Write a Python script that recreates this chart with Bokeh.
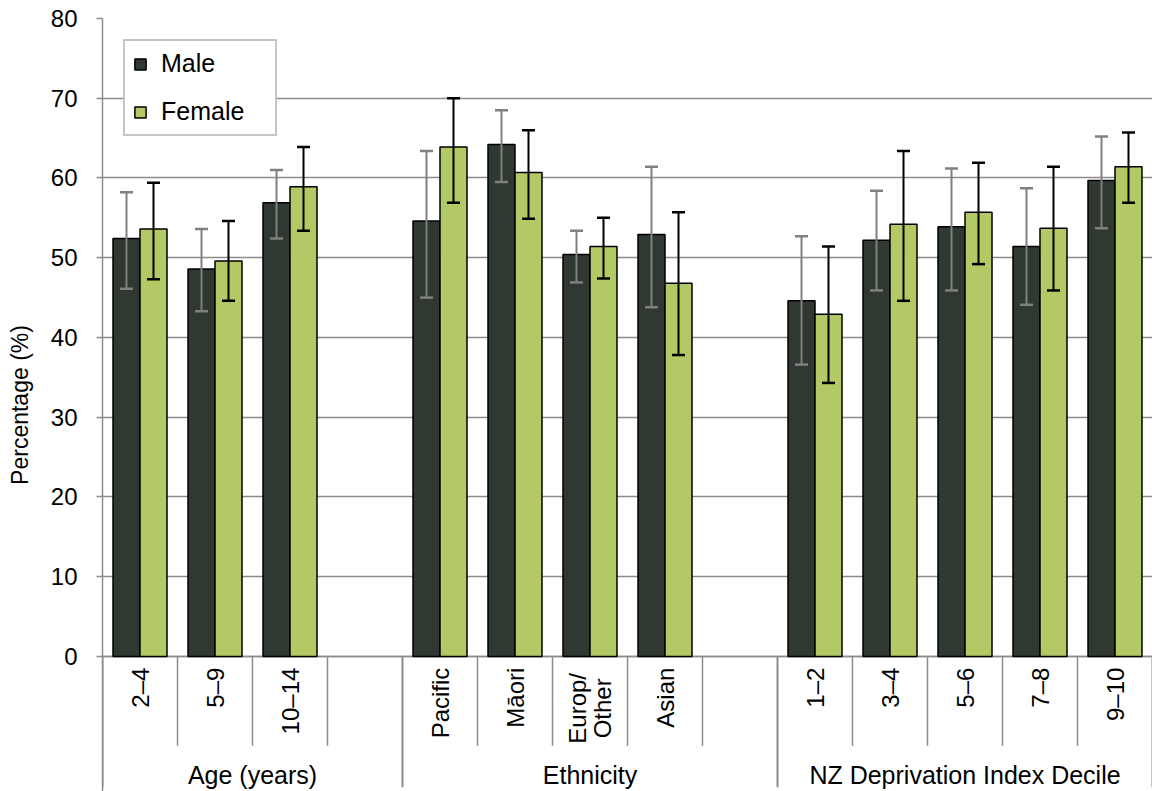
import math
from bokeh.plotting import figure
from bokeh.models import (ColumnDataSource, Whisker, TeeHead, FixedTicker, Legend,
                          LegendItem, Range1d)
from bokeh.core.properties import value
from bokeh.embed import file_html
from bokeh.resources import INLINE

# ---------------- data ----------------
group_names = ["Age (years)", "Ethnicity", "NZ Deprivation Index Decile"]
age_cats = ["2–4", "5–9", "10–14"]
eth_cats = ["Pacific", "Māori", "Europ/\nOther", "Asian"]
dep_cats = ["1–2", "3–4", "5–6", "7–8", "9–10"]

male = [52.4, 48.6, 56.9, 54.6, 64.2, 50.4, 52.9, 44.6, 52.2, 53.9, 51.4, 59.7]
male_lo = [46.1, 43.3, 52.4, 45.0, 59.5, 46.9, 43.8, 36.6, 45.9, 45.9, 44.1, 53.7]
male_hi = [58.2, 53.6, 61.0, 63.4, 68.5, 53.4, 61.4, 52.7, 58.4, 61.2, 58.7, 65.2]

female = [53.6, 49.6, 58.9, 63.9, 60.7, 51.4, 46.8, 42.9, 54.2, 55.7, 53.7, 61.4]
female_lo = [47.3, 44.6, 53.4, 56.9, 54.9, 47.4, 37.8, 34.3, 44.6, 49.2, 45.9, 56.9]
female_hi = [59.4, 54.6, 63.9, 70.0, 66.0, 55.0, 55.7, 51.4, 63.4, 61.9, 61.4, 65.7]

y_ticks = [0, 10, 20, 30, 40, 50, 60, 70, 80]

# ---------------- layout helpers ----------------
groups = [age_cats, eth_cats, dep_cats]
slot_x = []          # centre of each category slot
group_bounds = []    # (start, end) of each group in slot units
short_lines = []
pos = 0
for gi, cats in enumerate(groups):
    start = pos
    n = len(cats) + (1 if gi < len(groups) - 1 else 0)
    for k in range(len(cats)):
        slot_x.append(pos + k + 0.5)
    for k in range(1, n):
        short_lines.append(start + k)
    pos += n
    group_bounds.append((start, pos))
all_cats = [c for cats in groups for c in cats]
n_slots = pos

BW = 0.36
FONT = "Liberation Sans"
GRID = "#8c8c8c"
MALE_C = "#2f3831"
FEMALE_C = "#b3c965"

src = ColumnDataSource(dict(
    xm=[x - BW / 2 for x in slot_x], xf=[x + BW / 2 for x in slot_x],
    male=male, male_lo=male_lo, male_hi=male_hi,
    female=female, female_lo=female_lo, female_hi=female_hi,
))

Y_MIN = -16.93
p = figure(width=1152, height=791, output_backend="svg", toolbar_location=None,
           x_range=Range1d(0, n_slots), y_range=Range1d(Y_MIN, 80),
           min_border_left=102, min_border_right=0, min_border_top=18,
           min_border_bottom=0, x_axis_location=None)
p.outline_line_color = None
p.background_fill_color = "white"
p.xgrid.visible = False
p.ygrid.grid_line_color = GRID
p.ygrid.grid_line_width = 1.5

ya = p.yaxis[0]
ya.ticker = FixedTicker(ticks=y_ticks)
ya.axis_line_color = GRID
ya.axis_line_width = 1.5
ya.major_tick_line_color = GRID
ya.major_tick_line_width = 1.5
ya.major_tick_out = 6
ya.major_tick_in = 0
ya.minor_tick_line_color = None
ya.major_label_text_font = FONT
ya.major_label_text_font_size = "24px"
ya.major_label_text_color = "black"
ya.major_label_standoff = 19
ya.axis_label = "Percentage (%)"
ya.axis_label_text_font = FONT
ya.axis_label_text_font_size = "23px"
ya.axis_label_text_font_style = "normal"
ya.axis_label_text_color = "black"
ya.axis_label_standoff = 15

# x axis line and separators
p.segment(x0=[0], y0=[0], x1=[n_slots], y1=[0], line_color=GRID, line_width=1.5)
p.segment(x0=short_lines, y0=[0] * len(short_lines), x1=short_lines,
          y1=[-11.2] * len(short_lines), line_color=GRID, line_width=1.5)
long_lines = sorted(set([b for g in group_bounds for b in g]))
p.segment(x0=long_lines, y0=[0] * len(long_lines), x1=long_lines,
          y1=[-16.4] * len(long_lines), line_color=GRID, line_width=2)

# bars
rm = p.vbar(x="xm", top="male", bottom=0, width=BW, source=src,
            fill_color=MALE_C, line_color="black", line_width=1.5)
rf = p.vbar(x="xf", top="female", bottom=0, width=BW, source=src,
            fill_color=FEMALE_C, line_color="black", line_width=1.5)

# error bars
for base, lo, hi, col in (("xm", "male_lo", "male_hi", "#808080"),
                          ("xf", "female_lo", "female_hi", "black")):
    w = Whisker(source=src, base=base, lower=lo, upper=hi, dimension="height",
                line_color=col, line_width=2, level="overlay",
                upper_head=TeeHead(size=13, line_color=col, line_width=2.5),
                lower_head=TeeHead(size=13, line_color=col, line_width=2.5))
    p.add_layout(w)

# category labels
single_x = [x for x, c in zip(slot_x, all_cats) if "\n" not in c]
single_t = [c for c in all_cats if "\n" not in c]
multi_x = [x for x, c in zip(slot_x, all_cats) if "\n" in c]
multi_t = [c for c in all_cats if "\n" in c]
p.text(x=single_x, y=[-1.4] * len(single_x), text=single_t, angle=math.pi / 2,
       text_align="right", text_baseline="middle", text_font=value(FONT),
       text_font_size="24px", text_color="black")
p.text(x=multi_x, y=[-6.5] * len(multi_x), text=multi_t, angle=math.pi / 2,
       text_align="center", text_baseline="middle", text_font=value(FONT),
       text_font_size="24px", text_color="black", text_line_height=0.95)

# group labels
gx = [(a + b) / 2 for a, b in group_bounds]
p.text(x=gx, y=[-14.8] * len(gx), text=group_names, text_align="center",
       text_baseline="middle", text_font=value(FONT), text_font_size="25px",
       text_color="black")

legend = Legend(items=[LegendItem(label="Male", renderers=[rm]),
                       LegendItem(label="Female", renderers=[rf])],
                location="top_left", margin=21, padding=8, spacing=19,
                glyph_width=14, glyph_height=14, label_standoff=14,
                label_width=106, label_text_font=FONT, label_text_font_size="25px",
                label_text_color="black", border_line_color=GRID,
                border_line_width=2, background_fill_alpha=1.0)
p.add_layout(legend)

open("out.html", "w").write(file_html(p, INLINE))
